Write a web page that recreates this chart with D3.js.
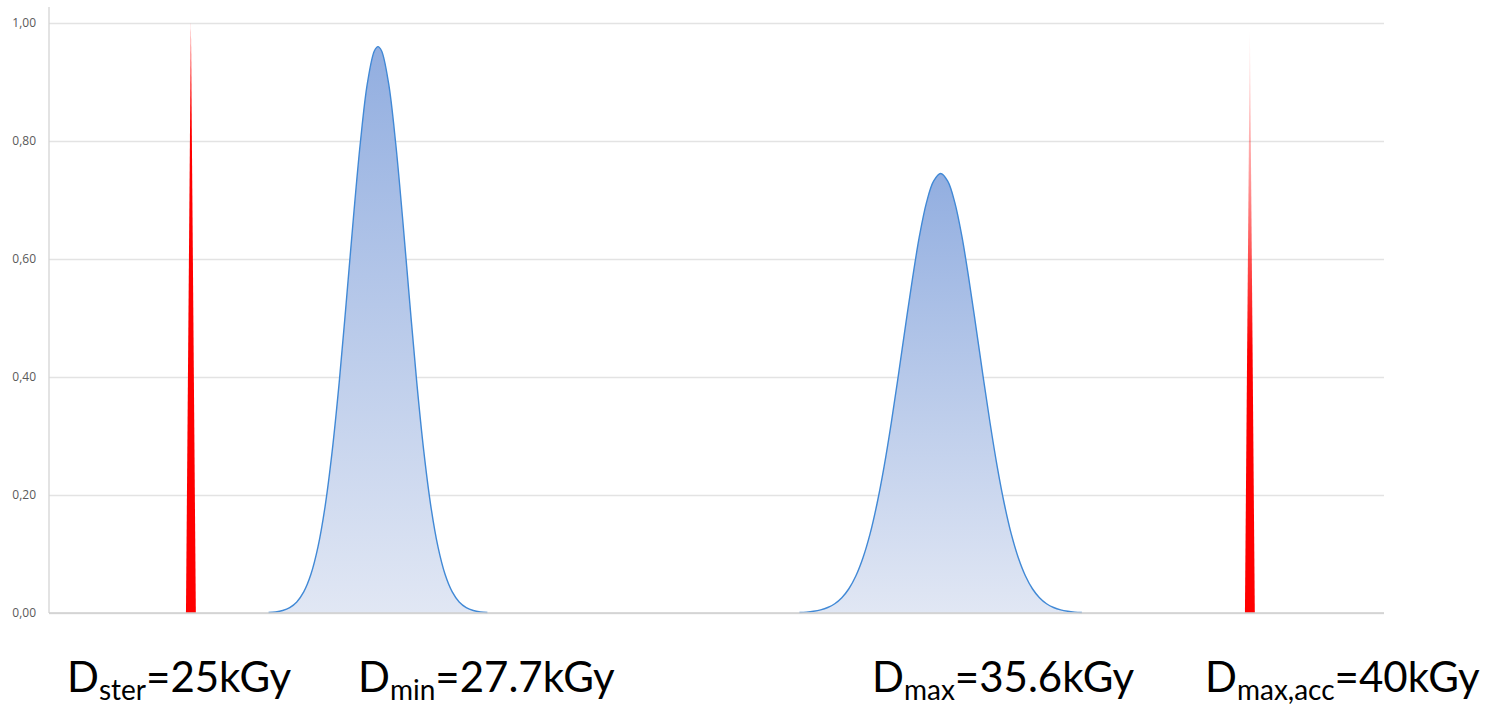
<!DOCTYPE html>
<html>
<head>
<meta charset="utf-8">
<script src="https://cdn.jsdelivr.net/npm/d3@7"></script>
<style>
  html, body { margin: 0; padding: 0; background: #ffffff; }
  svg { display: block; }
</style>
</head>
<body>
<svg id="chart" width="1489" height="706"></svg>
<script>
// ---- data (dose in kGy, relative frequency) ----
const yTicks = [0, 0.2, 0.4, 0.6, 0.8, 1.0];

const dminDose = [26.1, 26.2, 26.3, 26.4, 26.5, 26.6, 26.7, 26.8, 26.9, 27.0, 27.1, 27.2, 27.3, 27.4, 27.5, 27.6, 27.65, 27.7, 27.8, 27.9, 28.0, 28.1, 28.2, 28.3, 28.4, 28.5, 28.6, 28.7, 28.8, 28.9, 29.0, 29.1, 29.2];
const dminFreq = [0.0008, 0.0018, 0.0042, 0.0092, 0.0188, 0.0362, 0.0656, 0.112, 0.180, 0.273, 0.390, 0.526, 0.667, 0.797, 0.898, 0.953, 0.96, 0.953, 0.898, 0.797, 0.667, 0.526, 0.390, 0.273, 0.180, 0.112, 0.0656, 0.0362, 0.0188, 0.0092, 0.0042, 0.0018, 0.0008];

const dmaxDose = [33.62, 33.72, 33.82, 33.92, 34.02, 34.12, 34.22, 34.32, 34.42, 34.52, 34.62, 34.72, 34.82, 34.92, 35.02, 35.12, 35.22, 35.32, 35.42, 35.52, 35.62, 35.72, 35.82, 35.92, 36.02, 36.12, 36.22, 36.32, 36.42, 36.52, 36.62, 36.72, 36.82, 36.92, 37.02, 37.12, 37.22, 37.32, 37.42, 37.52, 37.62];
const dmaxFreq = [0.0008, 0.0015, 0.0029, 0.0053, 0.0093, 0.0157, 0.0259, 0.0411, 0.0631, 0.0936, 0.134, 0.186, 0.249, 0.322, 0.402, 0.485, 0.566, 0.639, 0.696, 0.732, 0.745, 0.732, 0.696, 0.639, 0.566, 0.485, 0.402, 0.322, 0.249, 0.186, 0.134, 0.0936, 0.0631, 0.0411, 0.0259, 0.0157, 0.0093, 0.0053, 0.0029, 0.0015, 0.0008];

const dsterDose = [24.93, 25.0, 25.07];
const dsterFreq = [0, 1.0, 0];
const daccDose = [39.93, 40.0, 40.07];
const daccFreq = [0, 0.99, 0];

const labelMain = ["D", "D", "D", "D"];
const labelSub = ["ster", "min", "max", "max,acc"];
const labelRest = ["=25kGy", "=27.7kGy", "=35.6kGy", "=40kGy"];

// ---- layout ----
const svg = d3.select("#chart");
const mLeft = 49, mRight = 1384, mTop = 23, mBottom = 613;

const x = d3.scaleLinear().domain([22.99, 41.9]).range([mLeft, mRight]);
const y = d3.scaleLinear().domain([0, 1]).range([mBottom, mTop]);

const defs = svg.append("defs");
const gBlue = defs.append("linearGradient").attr("id", "gBlue")
  .attr("x1", 0).attr("y1", 0).attr("x2", 0).attr("y2", 1);
gBlue.append("stop").attr("offset", "0%").attr("stop-color", "#92aee0");
gBlue.append("stop").attr("offset", "100%").attr("stop-color", "#e1e7f4");

const gRed = defs.append("linearGradient").attr("id", "gRed")
  .attr("x1", 0).attr("y1", 0).attr("x2", 0).attr("y2", 1);
gRed.append("stop").attr("offset", "0%").attr("stop-color", "#ff0000").attr("stop-opacity", 0.05);
gRed.append("stop").attr("offset", "25%").attr("stop-color", "#ff0000").attr("stop-opacity", 0.4);
gRed.append("stop").attr("offset", "55%").attr("stop-color", "#ff0000").attr("stop-opacity", 1);
gRed.append("stop").attr("offset", "100%").attr("stop-color", "#ff0000").attr("stop-opacity", 1);

// gridlines
const grid = svg.append("g").attr("transform", `translate(${mLeft},0)`)
  .call(d3.axisLeft(y).tickValues(yTicks).tickSize(-(mRight - mLeft)).tickFormat(""));
grid.select(".domain").remove();
grid.selectAll(".tick line").attr("stroke", "#e3e3e3").attr("stroke-width", 1.3);

// y axis labels
const yAxis = svg.append("g").attr("transform", `translate(${mLeft},0)`)
  .call(d3.axisLeft(y).tickValues(yTicks).tickSize(0).tickPadding(13)
    .tickFormat(d => d3.format(".2f")(d).replace(".", ",")));
yAxis.select(".domain").remove();
yAxis.selectAll("text").attr("fill", "#595959")
  .style("font-family", "'Open Sans', Lato, sans-serif").style("font-size", "12px");

// axis line
svg.append("line").attr("x1", mLeft).attr("x2", mLeft)
  .attr("y1", y(1.027)).attr("y2", y(0))
  .attr("stroke", "#d4d4d4").attr("stroke-width", 1.3);

// areas
const area = d3.area().x(d => x(d[0])).y0(y(0)).y1(d => y(d[1])).curve(d3.curveCatmullRom);
const line = d3.line().x(d => x(d[0])).y(d => y(d[1])).curve(d3.curveCatmullRom);

[[dminDose, dminFreq], [dmaxDose, dmaxFreq]].forEach(([xs, ys]) => {
  const pts = xs.map((v, i) => [v, ys[i]]);
  svg.append("path").datum(pts).attr("d", area).attr("fill", "url(#gBlue)");
  svg.append("path").datum(pts).attr("d", line).attr("fill", "none")
    .attr("stroke", "#4189d6").attr("stroke-width", 1.4);
});

// red spikes
const spike = d3.area().x(d => x(d[0])).y0(y(0)).y1(d => y(d[1]));
svg.append("path").datum(dsterDose.map((v, i) => [v, dsterFreq[i]]))
  .attr("d", spike).attr("fill", "#ff0000");
svg.append("path").datum(daccDose.map((v, i) => [v, daccFreq[i]]))
  .attr("d", spike).attr("fill", "url(#gRed)");

// baseline
svg.append("line").attr("x1", mLeft).attr("x2", mRight)
  .attr("y1", y(0)).attr("y2", y(0))
  .attr("stroke", "#cfcfcf").attr("stroke-width", 1.3);

// bottom labels
const labelX = [67, 358, 872, 1205];
const lab = svg.append("g").style("font-family", "Lato, 'Open Sans', sans-serif").attr("fill", "#000");
labelMain.forEach((m, i) => {
  const t = lab.append("text").attr("x", labelX[i]).attr("y", 692).style("font-size", "42px");
  t.append("tspan").text(m);
  t.append("tspan").text(labelSub[i]).style("font-size", "28px").attr("dy", 8);
  t.append("tspan").text(labelRest[i]).attr("dy", -8);
});
</script>
</body>
</html>
